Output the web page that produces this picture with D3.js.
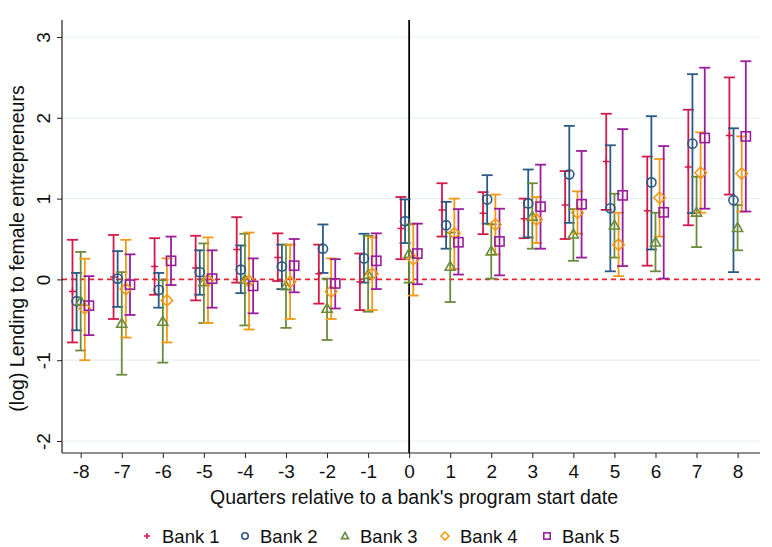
<!DOCTYPE html>
<html>
<head>
<meta charset="utf-8">
<script src="https://cdn.jsdelivr.net/npm/d3@7"></script>
<style>
  body { margin: 0; background: #fff; }
  svg { font-family: "Liberation Sans", Arial, sans-serif; }
</style>
</head>
<body>
<svg width="772" height="547"></svg>
<script>
// データ
const quarters = [-8, -7, -6, -5, -4, -3, -2, -1, 0, 1, 2, 3, 4, 5, 6, 7, 8];
const yTicks = [-2, -1, 0, 1, 2, 3];
const bankNames = ["Bank 1", "Bank 2", "Bank 3", "Bank 4", "Bank 5"];

const bank1Est = [-0.15, 0.03, 0.16, 0.14, 0.37, 0.27, 0.07, -0.03, 0.63, 0.86, 0.82, 0.75, 0.92, 1.46, 0.85, 1.39, 1.78];
const bank1Lo  = [-0.78, -0.49, -0.19, -0.26, -0.04, -0.02, -0.30, -0.38, 0.25, 0.53, 0.56, 0.51, 0.50, 0.86, 0.17, 0.67, 1.05];
const bank1Hi  = [0.49, 0.55, 0.51, 0.54, 0.77, 0.57, 0.43, 0.32, 1.02, 1.19, 1.08, 1.00, 1.34, 2.05, 1.52, 2.10, 2.50];

const bank2Est = [-0.27, 0.01, -0.13, 0.09, 0.12, 0.16, 0.38, 0.26, 0.72, 0.67, 0.99, 0.94, 1.30, 0.88, 1.20, 1.68, 0.98];
const bank2Lo  = [-0.63, -0.34, -0.35, -0.19, -0.17, -0.12, 0.08, -0.04, 0.45, 0.38, 0.69, 0.52, 0.70, 0.10, 0.37, 0.82, 0.09];
const bank2Hi  = [0.08, 0.35, 0.08, 0.36, 0.42, 0.43, 0.68, 0.565, 0.99, 0.96, 1.29, 1.36, 1.90, 1.66, 2.02, 2.54, 1.87];

const bank3Est = [-0.27, -0.545, -0.52, -0.03, 0.0, -0.08, -0.36, 0.06, 0.32, 0.16, 0.35, 0.78, 0.56, 0.67, 0.46, 0.83, 0.64];
const bank3Lo  = [-0.88, -1.18, -1.03, -0.54, -0.57, -0.60, -0.75, -0.40, -0.04, -0.28, 0.01, 0.38, 0.23, 0.27, 0.10, 0.40, 0.36];
const bank3Hi  = [0.34, 0.09, -0.01, 0.445, 0.565, 0.43, 0.01, 0.54, 0.68, 0.58, 0.68, 1.19, 0.87, 1.06, 0.825, 1.27, 0.92];

const bank4Est = [-0.36, -0.12, -0.26, -0.01, -0.02, -0.03, -0.15, 0.07, 0.25, 0.57, 0.68, 0.74, 0.825, 0.43, 1.01, 1.32, 1.31];
const bank4Lo  = [-1.0, -0.72, -0.78, -0.54, -0.62, -0.49, -0.49, -0.38, -0.20, 0.13, 0.31, 0.45, 0.565, 0.04, 0.53, 0.825, 0.84];
const bank4Hi  = [0.256, 0.49, 0.26, 0.52, 0.58, 0.43, 0.26, 0.52, 0.69, 1.0, 1.05, 1.02, 1.09, 0.825, 1.49, 1.82, 1.77];

const bank5Est = [-0.325, -0.065, 0.23, 0.01, -0.08, 0.17, -0.05, 0.23, 0.32, 0.46, 0.47, 0.90, 0.93, 1.04, 0.83, 1.75, 1.77];
const bank5Lo  = [-0.69, -0.44, -0.07, -0.35, -0.42, -0.16, -0.36, -0.12, -0.06, 0.06, 0.05, 0.38, 0.27, 0.165, 0.01, 0.875, 0.84];
const bank5Hi  = [0.04, 0.31, 0.53, 0.36, 0.26, 0.50, 0.25, 0.57, 0.69, 0.87, 0.875, 1.42, 1.59, 1.86, 1.65, 2.62, 2.70];

const colors = ["#d31a48", "#2a5a85", "#6b8c3c", "#f29a16", "#9a1d9c"];
const shapes = ["plus", "circle", "triangle", "diamond", "square"];
const offsets = [-0.2, -0.1, 0, 0.1, 0.2];

const banks = [
    [bank1Est, bank1Lo, bank1Hi],
    [bank2Est, bank2Lo, bank2Hi],
    [bank3Est, bank3Lo, bank3Hi],
    [bank4Est, bank4Lo, bank4Hi],
    [bank5Est, bank5Lo, bank5Hi]
].map((b, i) => quarters.map((q, j) => ({ bank: i, q: q, est: b[0][j], lo: b[1][j], hi: b[2][j] })));

const svg = d3.select("svg");
const plotLeft = 62, plotRight = 760, plotTop = 20, plotBottom = 453;

const x = d3.scaleLinear().domain([-8, 8]).range([80.7, 737.6]);
const y = d3.scaleLinear().domain([-2, 3]).range([441, 37]);

// グリッド線
svg.append("g")
    .selectAll("line")
    .data(yTicks)
    .enter().append("line")
    .attr("x1", plotLeft).attr("x2", plotRight)
    .attr("y1", d => y(d)).attr("y2", d => y(d))
    .attr("stroke", "#e8f0f2")
    .attr("stroke-width", 1.2);

// y=0 の赤い破線
svg.append("line")
    .attr("x1", plotLeft).attr("x2", plotRight)
    .attr("y1", y(0)).attr("y2", y(0))
    .attr("stroke", "#e8262b")
    .attr("stroke-width", 1.6)
    .attr("stroke-dasharray", "5,4");

// x=0 の縦線
svg.append("line")
    .attr("x1", x(0)).attr("x2", x(0))
    .attr("y1", plotTop).attr("y2", plotBottom)
    .attr("stroke", "#000")
    .attr("stroke-width", 1.8);

// 軸
const xAxis = svg.append("g")
    .attr("transform", `translate(0,${plotBottom})`)
    .call(d3.axisBottom(x).tickValues(quarters).tickFormat(d3.format("d")).tickSize(5).tickSizeOuter(0));
xAxis.select(".domain").attr("d", `M${plotLeft},0H${plotRight}`).attr("stroke", "#222").attr("stroke-width", 1.2);
xAxis.selectAll(".tick line").attr("stroke", "#222");
xAxis.selectAll(".tick text")
    .attr("font-size", 19).attr("fill", "#111").attr("y", 10).attr("dy", "0.8em")
    .text(d => d < 0 ? "-" + Math.abs(d) : d);

const yAxis = svg.append("g")
    .attr("transform", `translate(${plotLeft},0)`)
    .call(d3.axisLeft(y).tickValues(yTicks).tickSize(5).tickSizeOuter(0));
yAxis.select(".domain").attr("d", `M0,${plotTop}V${plotBottom}`).attr("stroke", "#222").attr("stroke-width", 1.2);
yAxis.selectAll(".tick line").attr("stroke", "#222");
yAxis.selectAll(".tick text")
    .attr("font-size", 19).attr("fill", "#111")
    .attr("x", 0).attr("dy", 0)
    .attr("text-anchor", "middle")
    .attr("transform", "translate(-12,0) rotate(-90)")
    .text(d => d < 0 ? "-" + Math.abs(d) : d);

// 軸ラベル
svg.append("text")
    .attr("x", (plotLeft + plotRight) / 2 + 3)
    .attr("y", 504)
    .attr("text-anchor", "middle")
    .attr("font-size", 19.5)
    .attr("fill", "#111")
    .text("Quarters relative to a bank's program start date");

svg.append("text")
    .attr("transform", `translate(24,${(plotTop + plotBottom) / 2 + 12}) rotate(-90)`)
    .attr("text-anchor", "middle")
    .attr("font-size", 19.5)
    .attr("fill", "#111")
    .text("(log) Lending to female entrepreneurs");

// マーカー描画
function drawMarker(g, shape, color, s) {
    if (shape === "plus") {
        g.append("path").attr("d", `M${-s},0H${s}M0,${-s}V${s}`)
            .attr("stroke", color).attr("stroke-width", 1.5).attr("fill", "none");
    } else if (shape === "circle") {
        g.append("circle").attr("r", s)
            .attr("stroke", color).attr("stroke-width", 1.6).attr("fill", "none");
    } else if (shape === "triangle") {
        const h = s * 1.1;
        g.append("path").attr("d", `M0,${-h}L${h},${h * 0.75}L${-h},${h * 0.75}Z`)
            .attr("stroke", color).attr("stroke-width", 1.6).attr("fill", "none");
    } else if (shape === "diamond") {
        const d = s * 1.25;
        g.append("path").attr("d", `M0,${-d}L${d},0L0,${d}L${-d},0Z`)
            .attr("stroke", color).attr("stroke-width", 1.6).attr("fill", "none");
    } else {
        g.append("rect").attr("x", -s).attr("y", -s).attr("width", 2 * s).attr("height", 2 * s)
            .attr("stroke", color).attr("stroke-width", 1.6).attr("fill", "none");
    }
}

const capW = 5.5;
banks.forEach((series, i) => {
    const g = svg.append("g");
    const bars = g.selectAll(".ci")
        .data(series)
        .enter().append("g")
        .attr("transform", d => `translate(${x(d.q + offsets[i])},0)`);
    bars.append("line")
        .attr("y1", d => y(d.lo)).attr("y2", d => y(d.hi))
        .attr("stroke", colors[i]).attr("stroke-width", 1.8);
    bars.append("line")
        .attr("x1", -capW).attr("x2", capW)
        .attr("y1", d => y(d.lo)).attr("y2", d => y(d.lo))
        .attr("stroke", colors[i]).attr("stroke-width", 1.8);
    bars.append("line")
        .attr("x1", -capW).attr("x2", capW)
        .attr("y1", d => y(d.hi)).attr("y2", d => y(d.hi))
        .attr("stroke", colors[i]).attr("stroke-width", 1.8);
});

banks.forEach((series, i) => {
    svg.append("g").selectAll(".pt")
        .data(series)
        .enter().append("g")
        .attr("transform", d => `translate(${x(d.q + offsets[i])},${y(d.est)})`)
        .each(function () {
            drawMarker(d3.select(this), shapes[i], colors[i], i === 0 ? 3.5 : 4.6);
        });
});

// 凡例
const legendX = [147, 245, 345, 445, 547];
bankNames.forEach((name, i) => {
    const lg = svg.append("g").attr("transform", `translate(${legendX[i]},536)`);
    drawMarker(lg, shapes[i], colors[i], i === 0 ? 3 : 3.2);
    lg.append("text")
        .attr("x", 15).attr("y", 6.5)
        .attr("font-size", 18.5)
        .attr("fill", "#111")
        .text(name);
});
</script>
</body>
</html>
